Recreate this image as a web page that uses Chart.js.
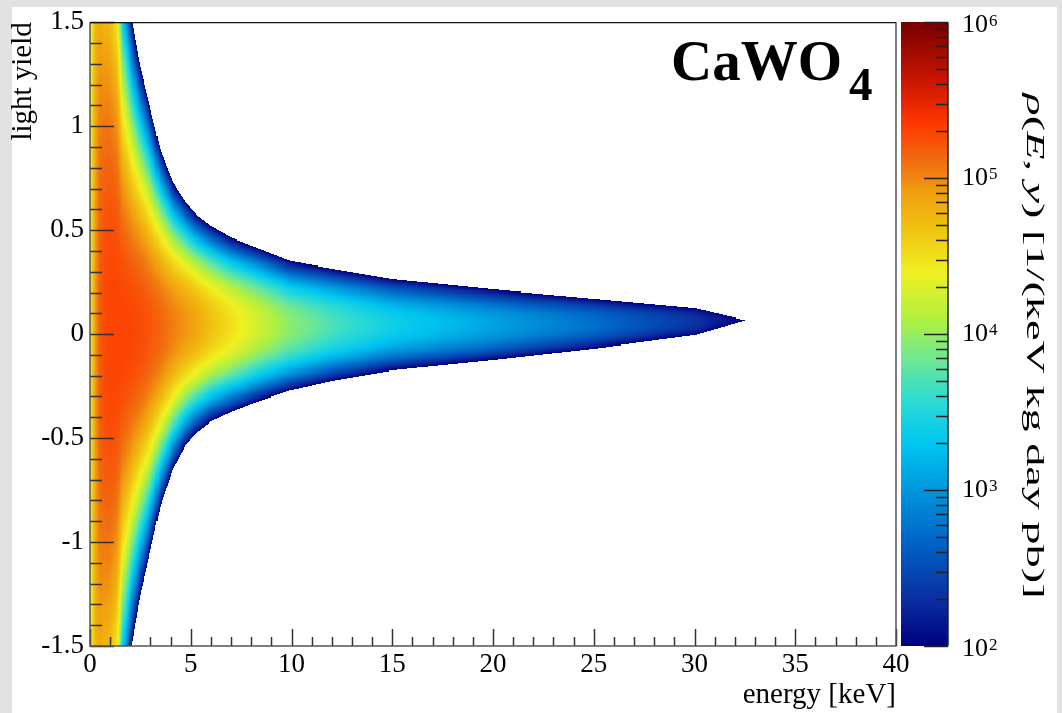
<!DOCTYPE html>
<html>
<head>
<meta charset="utf-8">
<title>CaWO4 recoil density</title>
<script src="https://cdn.jsdelivr.net/npm/chart.js@4.4.1/dist/chart.umd.min.js"></script>
<style>
  html, body { margin: 0; padding: 0; background: #e2e2e2; overflow: hidden; }
  #wrap { width: 1062px; height: 713px; position: relative; }
  canvas { display: block; }
</style>
</head>
<body>
<div id="wrap"><canvas id="chart" width="1062" height="713"></canvas></div>
<script>
// Recoil band sampled along energy: density at the band centre, band centre
// in light yield, and half width of the band down to the 10^2 contour.
const energyKnots   = [0.05, 0.25, 0.5, 0.8, 1.0, 1.35, 1.6, 2.1, 2.5, 2.9, 3.5, 4.1, 4.7, 5.2, 6.0, 7.0, 8.3, 10, 12, 15, 20, 25, 30, 32.5];
const peakDensity   = [3.0e4, 8.0e4, 1.6e5, 1.9e5, 2.0e5, 2.0e5, 2.0e5, 1.95e5, 1.85e5, 1.7e5, 1.4e5, 1.1e5, 8.9e4, 7.4e4, 5.0e4, 3.2e4, 1.8e4, 8.9e3, 5.0e3, 2.5e3, 1.2e3, 560, 220, 100];
const bandCentre    = [0, 0, 0, 0, 0, 0.005, 0.005, 0.01, 0.015, 0.02, 0.03, 0.04, 0.05, 0.05, 0.05, 0.045, 0.045, 0.04, 0.045, 0.045, 0.045, 0.05, 0.06, 0.067];
const bandHalfWidth = [6.0, 5.5, 3.9, 3.5, 3.3, 2.75, 1.95, 1.5, 1.28, 1.11, 0.85, 0.69, 0.59, 0.53, 0.47, 0.42, 0.37, 0.31, 0.27, 0.22, 0.17, 0.12, 0.065, 0.0];
const profileExponent = 2.2;   // shape of the light-yield profile (log density vs distance)
const densityFloor = 100;      // lowest drawn density

// axis ticks and labels
const xTickValues = [0, 5, 10, 15, 20, 25, 30, 35, 40];
const xTickLabels = ['0', '5', '10', '15', '20', '25', '30', '35', '40'];
const yTickValues = [-1.5, -1, -0.5, 0, 0.5, 1, 1.5];
const yTickLabels = ['-1.5', '-1', '-0.5', '0', '0.5', '1', '1.5'];
const zTickValues = [1e2, 1e3, 1e4, 1e5, 1e6];
const zTickBase   = ['10', '10', '10', '10', '10'];
const zTickPower  = ['2', '3', '4', '5', '6'];

const SERIF = "'Liberation Serif', 'Times New Roman', 'DejaVu Serif', serif";

// rainbow palette over log10(density) from 2 to 6
const paletteStops = [
  [2.0,  [0, 0, 128]],
  [2.3,  [10, 46, 160]],
  [2.65, [0, 96, 196]],
  [3.0,  [0, 150, 220]],
  [3.3,  [0, 198, 240]],
  [3.6,  [48, 220, 208]],
  [3.85, [112, 232, 144]],
  [4.1,  [176, 240, 64]],
  [4.4,  [240, 240, 32]],
  [4.7,  [240, 192, 16]],
  [4.9,  [240, 160, 16]],
  [5.1,  [240, 112, 16]],
  [5.35, [255, 56, 0]],
  [5.6,  [208, 24, 0]],
  [6.0,  [120, 0, 0]]
];
function paletteColor(l) {
  if (l <= paletteStops[0][0]) return paletteStops[0][1];
  for (let i = 1; i < paletteStops.length; i++) {
    if (l <= paletteStops[i][0]) {
      const a = paletteStops[i - 1], b = paletteStops[i];
      const t = (l - a[0]) / (b[0] - a[0]);
      return a[1].map((v, k) => Math.round(v + (b[1][k] - v) * t));
    }
  }
  return paletteStops[paletteStops.length - 1][1];
}
const LEVELS = 400;
const colorTable = [];
for (let i = 0; i <= LEVELS; i++) {
  const c = paletteColor(2 + 4 * i / LEVELS);
  colorTable.push('rgb(' + c[0] + ',' + c[1] + ',' + c[2] + ')');
}
function colorIndex(logValue) {
  let i = Math.round((logValue - 2) / 4 * LEVELS);
  if (i < 0) i = 0; if (i > LEVELS) i = LEVELS;
  return i;
}
function colorFor(logValue) { return colorTable[colorIndex(logValue)]; }

// band parameters at an arbitrary energy, from the sampled knots
function bandAt(e) {
  const n = energyKnots.length;
  if (e > energyKnots[n - 1]) return null;
  if (e <= energyKnots[0]) {
    return { logPeak: Math.log10(peakDensity[0]), centre: bandCentre[0], half: bandHalfWidth[0] };
  }
  let i = 1;
  while (i < n && e > energyKnots[i]) i++;
  const t = (e - energyKnots[i - 1]) / (energyKnots[i] - energyKnots[i - 1]);
  const lerp = (arr) => arr[i - 1] + (arr[i] - arr[i - 1]) * t;
  const lp = Math.log10(peakDensity[i - 1]) + (Math.log10(peakDensity[i]) - Math.log10(peakDensity[i - 1])) * t;
  return { logPeak: lp, centre: lerp(bandCentre), half: lerp(bandHalfWidth) };
}

// page background and white plotting sheet
const sheetPlugin = {
  id: 'sheet',
  beforeDraw(chart) {
    const ctx = chart.ctx;
    ctx.save();
    ctx.fillStyle = '#e2e2e2';
    ctx.fillRect(0, 0, chart.width, chart.height);
    ctx.fillStyle = '#ffffff';
    ctx.fillRect(12, 7, 1045, chart.height - 7);
    ctx.restore();
  }
};

// density map, one cell per energy/light-yield bin
const densityMapPlugin = {
  id: 'densityMap',
  beforeDatasetsDraw(chart) {
    const { ctx, chartArea } = chart;
    const xs = chart.scales.x, ys = chart.scales.y;
    const dE = 0.05, dY = 0.005;
    const nE = Math.round((xs.max - xs.min) / dE);
    const nY = Math.round((ys.max - ys.min) / dY);
    const logFloor = Math.log10(densityFloor);
    ctx.save();
    ctx.beginPath();
    ctx.rect(chartArea.left, chartArea.top, chartArea.right - chartArea.left, chartArea.bottom - chartArea.top);
    ctx.clip();
    for (let i = 0; i < nE; i++) {
      const e0 = xs.min + i * dE;
      const band = bandAt(e0 + dE / 2);
      if (!band || band.half <= 0) continue;
      const xa = Math.round(xs.getPixelForValue(e0));
      const xb = Math.round(xs.getPixelForValue(e0 + dE));
      // merge neighbouring cells of equal colour into one rectangle
      let runIdx = -1, runTop = 0, runBottom = 0;
      const flush = () => {
        if (runIdx >= 0) {
          ctx.fillStyle = colorTable[runIdx];
          ctx.fillRect(xa, runTop, xb - xa, runBottom - runTop);
        }
        runIdx = -1;
      };
      for (let j = 0; j < nY; j++) {
        const y0 = ys.min + j * dY;
        const u = Math.abs(y0 + dY / 2 - band.centre) / band.half;
        if (u >= 1) { flush(); continue; }
        const l = band.logPeak - (band.logPeak - logFloor) * Math.pow(u, profileExponent);
        if (l < logFloor) { flush(); continue; }
        const ci = colorIndex(l);
        const ya = Math.round(ys.getPixelForValue(y0 + dY));
        const yb = Math.round(ys.getPixelForValue(y0));
        if (ci === runIdx) {
          runTop = ya;
        } else {
          flush();
          runIdx = ci; runTop = ya; runBottom = yb;
        }
      }
      flush();
    }
    ctx.restore();
  }
};

// frame, inward ticks, colour bar and annotations
const decorPlugin = {
  id: 'decor',
  afterDraw(chart) {
    const { ctx, chartArea } = chart;
    const xs = chart.scales.x, ys = chart.scales.y, zs = chart.scales.z;
    const L = chartArea.left, R = chartArea.right, T = chartArea.top, B = chartArea.bottom;
    ctx.save();

    // ticks pointing into the frame
    ctx.strokeStyle = '#333';
    ctx.lineWidth = 1.5;
    ctx.beginPath();
    for (let v = xs.min; v <= xs.max + 1e-9; v += 1) {
      const major = xTickValues.some(t => Math.abs(t - v) < 1e-9);
      const px = Math.round(xs.getPixelForValue(v)) + 0.5;
      ctx.moveTo(px, B); ctx.lineTo(px, B - (major ? 17 : 9));
    }
    for (let k = 0; k <= 30; k++) {
      const v = ys.min + k * 0.1;
      const major = yTickValues.some(t => Math.abs(t - v) < 1e-6);
      const py = Math.round(ys.getPixelForValue(v)) + 0.5;
      ctx.moveTo(L, py); ctx.lineTo(L + (major ? 24 : 12), py);
    }
    ctx.stroke();

    // frame
    ctx.lineWidth = 1.5;
    ctx.strokeStyle = '#555';
    ctx.beginPath();
    ctx.moveTo(L, T); ctx.lineTo(L, B); ctx.lineTo(R, B); ctx.lineTo(R, T);
    ctx.stroke();
    ctx.strokeStyle = '#111';
    ctx.lineWidth = 1.2;
    ctx.beginPath();
    ctx.moveTo(L, T + 0.5); ctx.lineTo(R, T + 0.5);
    ctx.stroke();

    // colour bar
    const cbL = R + 5, cbR = R + 52;
    const zPix = (v) => {
      const p = zs ? zs.getPixelForValue(v) : NaN;
      if (isFinite(p)) return p;
      return B - (Math.log10(v) - 2) / 4 * (B - T);
    };
    const steps = 320;
    for (let s = 0; s < steps; s++) {
      const la = 2 + 4 * s / steps, lb = 2 + 4 * (s + 1) / steps;
      const ya = zPix(Math.pow(10, lb)), yb = zPix(Math.pow(10, la));
      ctx.fillStyle = colorFor((la + lb) / 2);
      ctx.fillRect(cbL, Math.floor(ya), cbR - cbL, Math.ceil(yb) - Math.floor(ya));
    }
    ctx.strokeStyle = '#222';
    ctx.lineWidth = 1.5;
    ctx.beginPath();
    ctx.moveTo(cbR, zPix(1e6)); ctx.lineTo(cbR, zPix(1e2));
    for (let d = 2; d < 6; d++) {
      for (let m = 1; m <= 9; m++) {
        const v = m * Math.pow(10, d);
        const py = Math.round(zPix(v)) + 0.5;
        ctx.moveTo(cbR, py); ctx.lineTo(cbR - (m === 1 ? 24 : 12), py);
      }
    }
    const pTop = Math.round(zPix(1e6)) + 0.5;
    ctx.moveTo(cbR, pTop); ctx.lineTo(cbR - 24, pTop);
    ctx.stroke();

    // colour bar labels 10^n
    ctx.fillStyle = '#000';
    zTickValues.forEach((v, i) => {
      const py = zPix(v) + (i === zTickValues.length - 1 ? 3 : (i === 0 ? 3 : 0));
      ctx.font = '26px ' + SERIF;
      ctx.textAlign = 'left';
      ctx.textBaseline = 'middle';
      const bx = cbR + 14;
      ctx.fillText(zTickBase[i], bx, py);
      const w = ctx.measureText(zTickBase[i]).width;
      ctx.font = '17px ' + SERIF;
      ctx.textBaseline = 'alphabetic';
      ctx.fillText(zTickPower[i], bx + w + 1, py + 1);
    });

    // colour bar title, reading downwards
    const parts = [
      { t: 'ρ', it: true }, { t: '(', it: false }, { t: 'E', it: true }, { t: ', ', it: false },
      { t: 'y', it: true }, { t: ') [1/(keV kg day pb)]', it: false }
    ];
    const fs = 26;
    let total = 0;
    parts.forEach(p => { ctx.font = (p.it ? 'italic ' : '') + fs + 'px ' + SERIF; p.w = ctx.measureText(p.t).width; total += p.w; });
    const span = 505;
    ctx.save();
    ctx.translate(1034, (T + B) / 2 + 12);
    ctx.rotate(Math.PI / 2);
    ctx.scale(span / total, 1);
    ctx.textAlign = 'left';
    ctx.textBaseline = 'middle';
    let cx = -total / 2;
    parts.forEach(p => { ctx.font = (p.it ? 'italic ' : '') + fs + 'px ' + SERIF; ctx.fillText(p.t, cx, 0); cx += p.w; });
    ctx.restore();

    // material label
    ctx.textAlign = 'left';
    ctx.textBaseline = 'alphabetic';
    ctx.font = 'bold 57px ' + SERIF;
    ctx.fillText('CaWO', 671, 80);
    const ww = ctx.measureText('CaWO').width;
    ctx.font = 'bold 47px ' + SERIF;
    ctx.fillText('4', 671 + ww + 7, 100);

    ctx.restore();
  }
};

const tickFont = { family: SERIF, size: 27 };
const titleFont = { family: SERIF, size: 29, lineHeight: 1.0 };

new Chart(document.getElementById('chart'), {
  type: 'scatter',
  data: { datasets: [{ data: [] }] },
  options: {
    responsive: false,
    animation: false,
    devicePixelRatio: 1,
    layout: { padding: { left: 6, right: 166, top: 22, bottom: 0 } },
    plugins: { legend: { display: false }, tooltip: { enabled: false } },
    scales: {
      x: {
        type: 'linear', position: 'bottom', min: 0, max: 40,
        afterBuildTicks: (s) => { s.ticks = xTickValues.map(v => ({ value: v })); },
        afterFit: (s) => { s.height = 67; },
        ticks: { font: tickFont, color: '#000', padding: 3, maxRotation: 0, autoSkip: false,
                 callback: (v) => { const i = xTickValues.indexOf(v); return i >= 0 ? xTickLabels[i] : ''; } },
        grid: { display: false, drawTicks: false },
        border: { display: false },
        title: { display: true, text: 'energy [keV]', align: 'end', color: '#000', font: titleFont, padding: { top: 0, bottom: 3 } }
      },
      y: {
        type: 'linear', position: 'left', min: -1.5, max: 1.5,
        afterBuildTicks: (s) => { s.ticks = yTickValues.map(v => ({ value: v })); },
        afterFit: (s) => { s.width = 84; },
        ticks: { font: tickFont, color: '#000', padding: 6, autoSkip: false,
                 callback: (v) => { const i = yTickValues.findIndex(t => Math.abs(t - v) < 1e-9); return i >= 0 ? yTickLabels[i] : ''; } },
        grid: { display: false, drawTicks: false },
        border: { display: false },
        title: { display: true, text: 'light yield', align: 'end', color: '#000', font: titleFont, padding: { top: 3, bottom: 0 } }
      },
      z: {
        type: 'logarithmic', position: 'right', min: 1e2, max: 1e6, display: false
      }
    }
  },
  plugins: [sheetPlugin, densityMapPlugin, decorPlugin]
});
</script>
</body>
</html>
